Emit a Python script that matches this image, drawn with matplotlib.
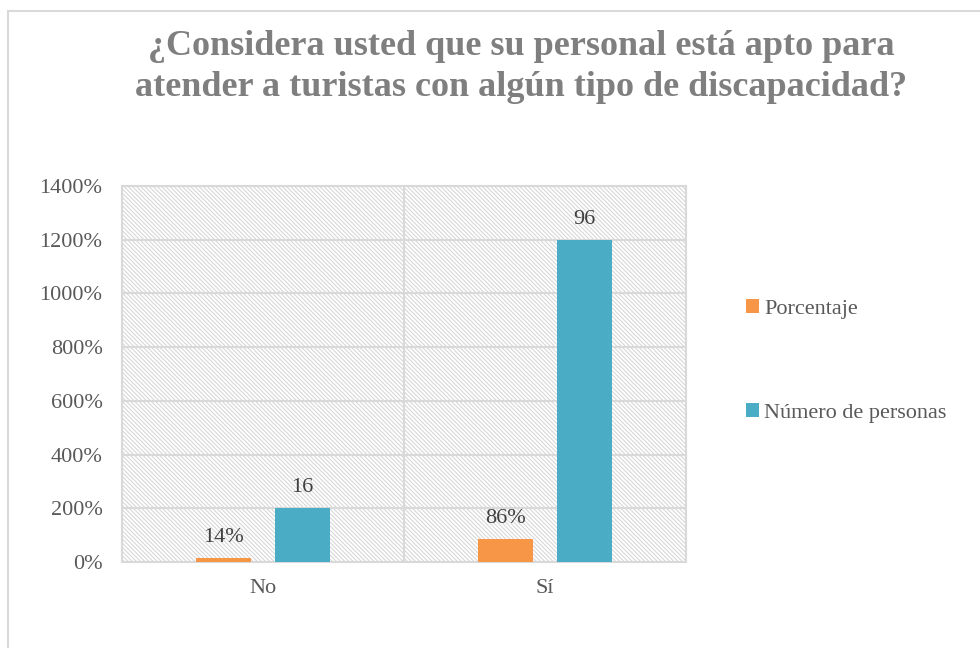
import numpy as np
import matplotlib
matplotlib.use('Agg')
import matplotlib.pyplot as plt
from matplotlib.patches import Rectangle
from matplotlib.ticker import PercentFormatter

plt.rcParams['font.family'] = ['Liberation Serif', 'DejaVu Serif']
plt.rcParams['hatch.linewidth'] = 0.8

# Data
categorias = ['No', 'Sí']
porcentaje = [0.14, 0.86]          # plotted as 14%, 86%
personas_etiqueta = [16, 96]       # data labels shown
personas_altura = [2.0, 12.0]      # bar heights on the % axis (200%, 1200%)
y_ticks = [0, 2, 4, 6, 8, 10, 12, 14]

titulo = '¿Considera usted que su personal está apto para\natender a turistas con algún tipo de discapacidad?'
c_porc = '#f79646'
c_pers = '#4bacc6'
grid_c = '#d9d9d9'
txt_c = '#595959'

fig = plt.figure(figsize=(9.8, 6.48), dpi=100)
ax = fig.add_axes([122/980, 1 - 562/648, (686 - 122)/980, (562 - 186)/648])

# hatched plot area
ax.set_facecolor('white')
ax.add_patch(Rectangle((0, 0), 1, 1, transform=ax.transAxes, facecolor='white',
                       edgecolor='#d8d8d8', hatch='\\' * 8, linewidth=0, zorder=0))

x = np.arange(len(categorias))
w = 0.195
off = 0.14
b1 = ax.bar(x - off, porcentaje, w, color=c_porc, label='Porcentaje', zorder=3)
b2 = ax.bar(x + off, personas_altura, w, color=c_pers, label='Número de personas', zorder=3)

for rect, v in zip(b1, porcentaje):
    ax.annotate(f'{v:.0%}', (rect.get_x() + rect.get_width()/2, rect.get_height()),
                xytext=(0, 8), textcoords='offset points', ha='center', va='bottom',
                fontsize=16, color='#404040')
for rect, v in zip(b2, personas_etiqueta):
    ax.annotate(f'{v}', (rect.get_x() + rect.get_width()/2, rect.get_height()),
                xytext=(0, 8), textcoords='offset points', ha='center', va='bottom',
                fontsize=16, color='#404040')

ax.set_xlim(-0.5, 1.5)
ax.set_ylim(0, 14)
ax.set_yticks(y_ticks)
ax.yaxis.set_major_formatter(PercentFormatter(1.0, decimals=0))
ax.set_xticks(x)
ax.set_xticklabels(categorias)
ax.grid(axis='y', color=grid_c, linewidth=1.5, zorder=1)
ax.set_axisbelow(False)
ax.axvline(0.5, color=grid_c, linewidth=1.5, zorder=1)
for s in ax.spines.values():
    s.set_color(grid_c)
    s.set_linewidth(1.5)
    s.set_zorder(1)
ax.tick_params(length=0, labelsize=16, colors=txt_c)
ax.tick_params(axis='y', pad=14)
ax.tick_params(axis='x', pad=12)

ax.legend(loc='center left', bbox_to_anchor=(735/980, 1 - 361/648), bbox_transform=fig.transFigure,
          frameon=False, fontsize=16, labelcolor=txt_c, handlelength=0.6, handleheight=0.6,
          handletextpad=0.2, labelspacing=3.8, borderpad=0)

fig.text(0.532, 1 - 67/648, titulo, ha='center', va='center', fontsize=26,
         fontweight='bold', color='#7f7f7f', linespacing=1.3)

# chart frame (cropped on the right and bottom)
fig.add_artist(Rectangle((8/980, -0.1), 1.2, 1.1 - 11/648, transform=fig.transFigure,
                         fill=False, edgecolor=grid_c, linewidth=1.5))

fig.savefig('out.png', dpi=100)
